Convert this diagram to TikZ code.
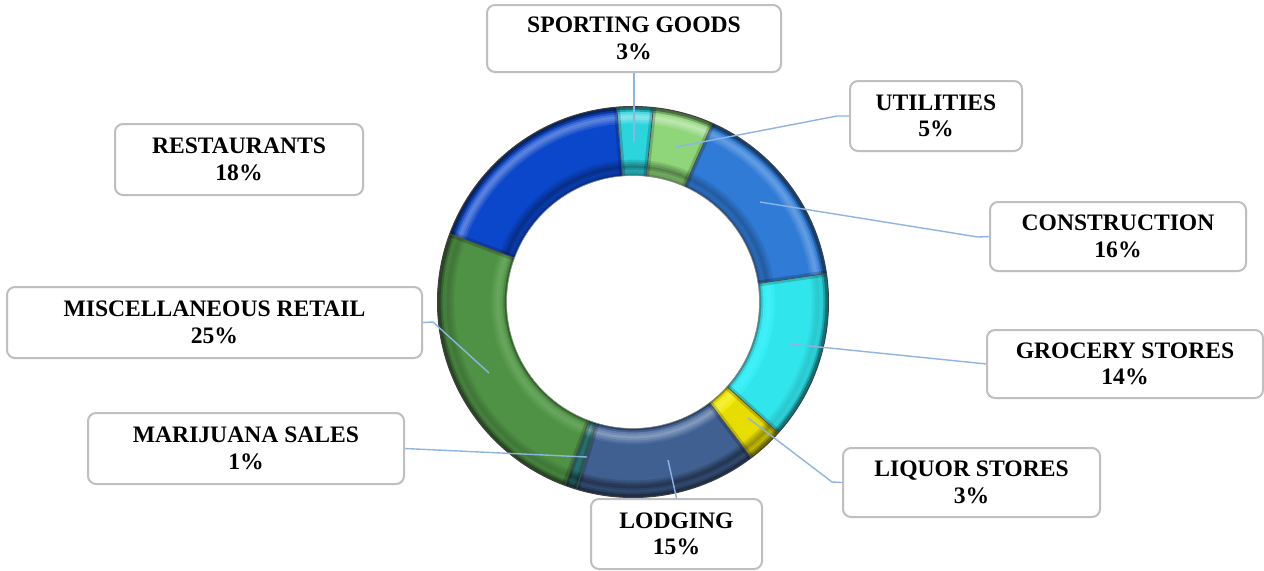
\documentclass[tikz,border=0pt]{standalone}
\usepackage{fontspec}
\setmainfont{Liberation Serif}
\usetikzlibrary{calc}
\definecolor{cCons}{HTML}{307CD8}
\definecolor{cGroc}{HTML}{33EEF6}
\definecolor{cLiq}{HTML}{F2EA00}
\definecolor{cLodg}{HTML}{44669A}
\definecolor{cMari}{HTML}{2B7575}
\definecolor{cMisc}{HTML}{539848}
\definecolor{cRest}{HTML}{0B47CC}
\definecolor{cSport}{HTML}{2CD4DC}
\definecolor{cUtil}{HTML}{8FD67A}
\definecolor{cBorder}{HTML}{BFBFBF}
\definecolor{cLeader}{HTML}{8DB4E2}
\tikzset{
  lbl/.style={draw=cBorder, line width=1pt, rounded corners=4pt, fill=white, align=center,
    inner sep=0pt, font=\bfseries\fontsize{11.8}{13.3}\selectfont},
  leader/.style={draw=cLeader, line width=0.7pt},
  sep/.style={draw=black!70, line width=0.4pt},
  endbevel/.style={draw=black, draw opacity=0.18, line width=3pt}
}
% #1 start angle, #2 end angle, #3 base colour
\newcommand{\ringslice}[3]{%
  \pgfmathsetmacro\myv{-sin((#1+#2)/2)}%
  \foreach \i in {0,...,33}{%
    \pgfmathsetmacro\myr{127+2*\i+1}%
    \pgfmathsetmacro\myt{(\i+0.5)/34}%
    \pgfmathsetmacro\win{max(0,1-abs(\myt-0.13)/0.12)}%
    \pgfmathsetmacro\wout{max(0,1-abs(\myt-0.86)/0.11)}%
    \pgfmathsetmacro\rim{(\myt<0.06 ? -0.45*(1-\myt/0.06) : 0) + (\myt>0.92 ? -0.6*(\myt-0.92)/0.08 : 0)}%
    \pgfmathsetmacro\mys{-\myv*0.42*\win + \myv*0.45*\wout + \rim - 0.03*(1-\myv)}%
    \ifdim\mys pt<0pt
      \pgfmathsetmacro\myp{100+100*\mys}%
      \draw[line width=1.6pt, color={#3!\myp!black}] ($(C)+(#1:\myr)$) arc[start angle=#1, end angle=#2, radius=\myr];
    \else
      \pgfmathsetmacro\myp{100-100*\mys}%
      \draw[line width=1.6pt, color={#3!\myp!white}] ($(C)+(#1:\myr)$) arc[start angle=#1, end angle=#2, radius=\myr];
    \fi
  }}
\begin{document}
\begin{tikzpicture}[x=0.5pt, y=-0.5pt]
\useasboundingbox (0,0) rectangle (1264,570);
\fill[white] (0,0) rectangle (1264,570);
\coordinate (C) at (633,302);
% donut slices (angle 0 = 3 o'clock, increasing clockwise on screen)
\ringslice{-66}{-8.4}{cCons}
\ringslice{-8.4}{42}{cGroc}
\ringslice{42}{52.8}{cLiq}
\ringslice{52.8}{106.8}{cLodg}
\ringslice{106.8}{110.4}{cMari}
\ringslice{110.4}{200.4}{cMisc}
\ringslice{200.4}{265.2}{cRest}
\ringslice{265.2}{276}{cSport}
\ringslice{276}{294}{cUtil}
\begin{scope}[even odd rule]
\clip (C) circle[radius=195.5] (C) circle[radius=126.5];
\foreach \a in {-66,-8.4,42,52.8,106.8,110.4,200.4,265.2,276}{
  \draw[endbevel] ($(C)+(\a:120)$) -- ($(C)+(\a:200)$);
  \draw[sep] ($(C)+(\a:120)$) -- ($(C)+(\a:200)$);
}
\end{scope}
\draw[black!75, line width=0.5pt] (C) circle[radius=195.5];
\draw[black!45, line width=0.3pt] (C) circle[radius=126.5];
% labels
\node[lbl, minimum width=147pt, minimum height=33.5pt] (sport) at (634,38.5) {SPORTING GOODS\\3\%};
\node[lbl, minimum width=86pt, minimum height=35pt] (util) at (936,116) {UTILITIES\\5\%};
\node[lbl, minimum width=128pt, minimum height=34.5pt] (cons) at (1118,236.5) {CONSTRUCTION\\16\%};
\node[lbl, minimum width=138pt, minimum height=34pt] (groc) at (1125,364) {GROCERY STORES\\14\%};
\node[lbl, minimum width=128.5pt, minimum height=34.5pt] (liq) at (971.5,482.5) {LIQUOR STORES\\3\%};
\node[lbl, minimum width=85.5pt, minimum height=35pt] (lodg) at (676.5,534) {LODGING\\15\%};
\node[lbl, minimum width=158pt, minimum height=35.5pt] (mari) at (246,448.5) {MARIJUANA SALES\\1\%};
\node[lbl, minimum width=207.5pt, minimum height=35.5pt] (misc) at (214.5,322.5) {MISCELLANEOUS RETAIL\\25\%};
\node[lbl, minimum width=124pt, minimum height=35.5pt] (rest) at (239,159.5) {RESTAURANTS\\18\%};
% leader lines
\coordinate (eSport) at (634,142);
\coordinate (eUtil) at (676,147);
\coordinate (kUtil) at (837,116);
\coordinate (eCons) at (760,202);
\coordinate (kCons) at (978,237);
\coordinate (eGroc) at (790,344);
\coordinate (kGroc) at (977,363);
\coordinate (eLiq) at (748,418);
\coordinate (kLiq) at (832,482);
\coordinate (eLodg) at (668,460);
\coordinate (eMari) at (587,457);
\coordinate (eMisc) at (489,373);
\coordinate (kMisc) at (433,322);
\draw[leader] (sport.south) -- (eSport);
\draw[leader] (eUtil) -- (kUtil) -- (util.west);
\draw[leader] (eCons) -- (kCons) -- (cons.west);
\draw[leader] (eGroc) -- (kGroc) -- (groc.west);
\draw[leader] (eLiq) -- (kLiq) -- (liq.west);
\draw[leader] (eLodg) -- (lodg.north);
\draw[leader] (eMari) -- (mari.east);
\draw[leader] (eMisc) -- (kMisc) -- (misc.east);
\end{tikzpicture}
\end{document}
